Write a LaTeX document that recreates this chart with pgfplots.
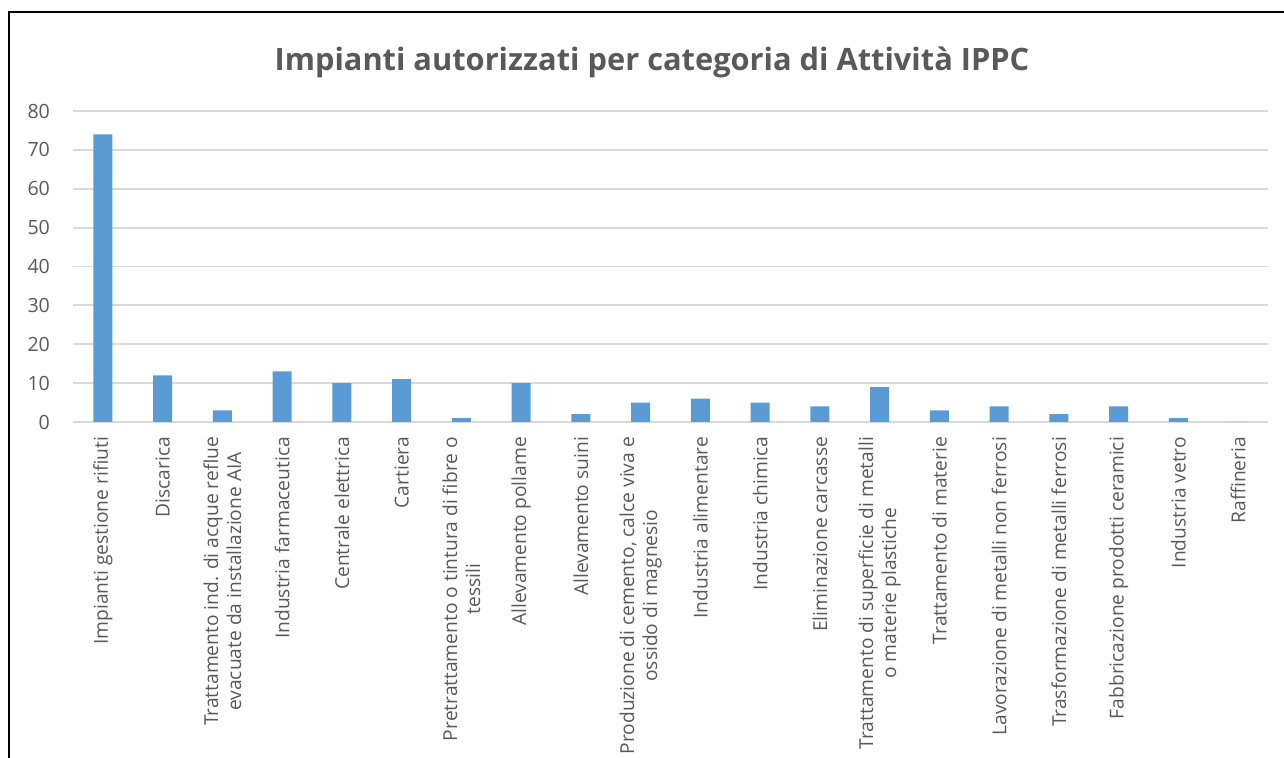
\documentclass[border=0pt]{standalone}
\usepackage{fontspec}
\setmainfont{Open Sans}
\usepackage{pgfplots}
\pgfplotsset{compat=1.18}
\definecolor{barblue}{HTML}{5B9BD5}
\definecolor{gridgray}{HTML}{D9D9D9}
\definecolor{txtgray}{HTML}{595959}
\begin{document}
\begin{tikzpicture}
\useasboundingbox (0,0) rectangle (642pt,379pt);
\draw[line width=1pt] (4.25pt,0) -- (4.25pt,372.75pt) -- (642pt,372.75pt);
\node[font=\fontsize{15.4}{17}\selectfont\bfseries, text=txtgray] at (326pt,348pt) {Impianti autorizzati per categoria di Attività IPPC};
\begin{axis}[
  at={(36.5pt,168pt)}, anchor=south west,
  width=597.5pt, height=155.5pt, scale only axis,
  xmin=-0.5, xmax=19.5, ymin=0, ymax=80,
  ytick={0,10,...,80},
  xtick={0,...,19},
  xticklabels={
    Impianti gestione rifiuti,
    Discarica,
    {Trattamento ind. di acque reflue\\evacuate da installazione AIA},
    Industria farmaceutica,
    Centrale elettrica,
    Cartiera,
    {Pretrattamento o tintura di fibre o\\tessili},
    Allevamento pollame,
    Allevamento suini,
    {Produzione di cemento, calce viva e\\ossido di magnesio},
    Industria alimentare,
    Industria chimica,
    Eliminazione carcasse,
    {Trattamento di superficie di metalli\\o materie plastiche},
    Trattamento di materie,
    Lavorazione di metalli non ferrosi,
    Trasformazione di metalli ferrosi,
    Fabbricazione prodotti ceramici,
    Industria vetro,
    Raffineria},
  xticklabel style={rotate=90, anchor=east, align=center, font=\fontsize{9.6}{11.5}\selectfont, text=txtgray},
  yticklabel style={font=\fontsize{9.8}{11}\selectfont, text=txtgray},
  /pgf/number format/assume math mode=true,
  xticklabel shift=4pt,
  yticklabel shift=8pt,
  axis x line*=bottom,
  axis y line*=left,
  y axis line style={draw=none},
  x axis line style={gridgray, line width=0.9pt, -},
  major tick length=0pt,
  ymajorgrids, grid style={gridgray, line width=0.9pt},
  ybar, bar width=9.5pt,
]
\addplot[fill=barblue, draw=none] coordinates {
(0,74) (1,12) (2,3) (3,13) (4,10) (5,11) (6,1) (7,10) (8,2) (9,5)
(10,6) (11,5) (12,4) (13,9) (14,3) (15,4) (16,2) (17,4) (18,1) (19,0)};
\end{axis}
\end{tikzpicture}
\end{document}
